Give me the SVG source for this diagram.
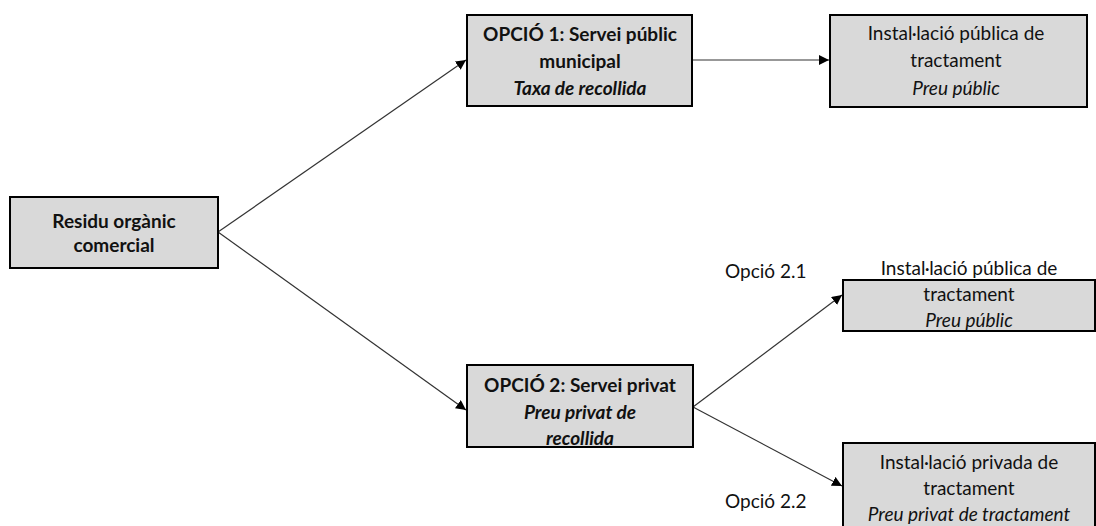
<svg xmlns="http://www.w3.org/2000/svg" width="1096" height="526" viewBox="0 0 1096 526">
  <style>
    .box { fill: #d9d9d9; stroke: #000; stroke-width: 2; }
    text { font-family: Lato, "Open Sans", "Liberation Sans", sans-serif; font-size: 19px; fill: #111; text-anchor: middle; }
    .b { font-weight: bold; }
    .i { font-style: italic; }
    .lbl { text-anchor: start; }
    .conn { stroke: #333; stroke-width: 1.2; fill: none; marker-end: url(#arrow); }
  </style>
  <defs>
    <marker id="arrow" viewBox="0 0 10 10" refX="10" refY="5" markerWidth="10" markerHeight="10" markerUnits="userSpaceOnUse" orient="auto">
      <path d="M0,0 L10,5 L0,10 z" fill="#000"/>
    </marker>
  </defs>

  <g id="connectors">
    <line class="conn" x1="218" y1="232" x2="466" y2="60"/>
    <line class="conn" x1="218" y1="232" x2="466" y2="410"/>
    <line class="conn" x1="692" y1="60" x2="829" y2="60"/>
    <line class="conn" x1="693" y1="407" x2="842" y2="295"/>
    <line class="conn" x1="693" y1="407" x2="842" y2="486"/>
  </g>

  <g id="residu">
    <rect class="box" x="10" y="197" width="208" height="71"/>
    <text class="b" x="114" y="228">Residu orgànic</text>
    <text class="b" x="114" y="252">comercial</text>
  </g>

  <g id="opcio1">
    <rect class="box" x="467" y="15" width="225" height="91"/>
    <text class="b" x="580" y="41">OPCIÓ 1: Servei públic</text>
    <text class="b" x="580" y="68">municipal</text>
    <text class="b i" x="580" y="95">Taxa de recollida</text>
  </g>

  <g id="installacio-publica-1">
    <rect class="box" x="830" y="15" width="257" height="92"/>
    <text x="956" y="40">Instal·lació pública de</text>
    <text x="956" y="67">tractament</text>
    <text class="i" x="956" y="95">Preu públic</text>
  </g>

  <g id="opcio2">
    <rect class="box" x="467" y="365" width="226" height="82"/>
    <text class="b" x="580" y="392">OPCIÓ 2: Servei privat</text>
    <text class="b i" x="580" y="419">Preu privat de</text>
    <text class="b i" x="580" y="445">recollida</text>
  </g>

  <g id="installacio-publica-2">
    <rect class="box" x="843" y="280" width="252" height="51"/>
    <text x="969" y="275">Instal·lació pública de</text>
    <text x="969" y="301">tractament</text>
    <text class="i" x="969" y="327">Preu públic</text>
  </g>

  <g id="installacio-privada">
    <rect class="box" x="843" y="443" width="252" height="90"/>
    <text x="969" y="469">Instal·lació privada de</text>
    <text x="969" y="495">tractament</text>
    <text class="i" x="969" y="521">Preu privat de tractament</text>
  </g>

  <g id="labels">
    <text class="lbl" x="725" y="278">Opció 2.1</text>
    <text class="lbl" x="725" y="508">Opció 2.2</text>
  </g>
</svg>
